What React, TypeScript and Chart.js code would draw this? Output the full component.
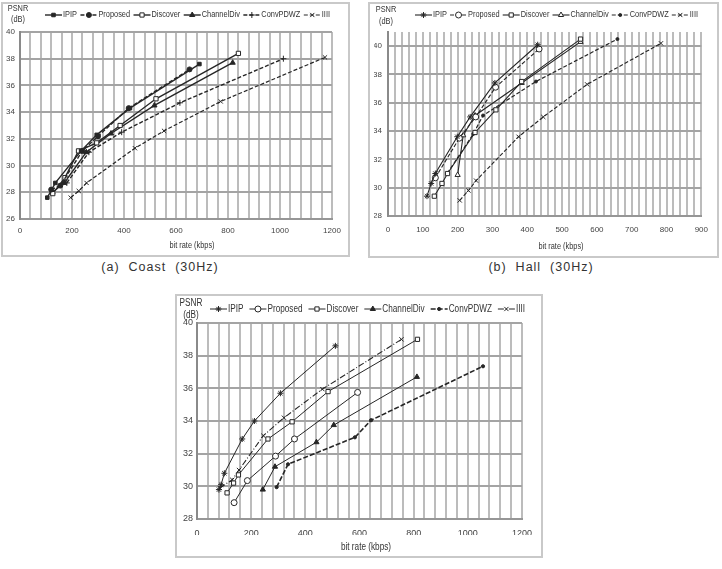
import React, { useEffect, useRef } from 'react';
import { Chart, registerables } from 'chart.js';
import { drawPoint } from 'chart.js/helpers';

Chart.register(...registerables);

type XY = [number, number];

const seriesNames = ['IPIP', 'Proposed', 'Discover', 'ChannelDiv', 'ConvPDWZ', 'IIII'];

// ---- Coast (30Hz): [bit rate kbps, PSNR dB]
const coastIPIP: XY[] = [[105, 27.6], [136, 28.7], [235, 31.1], [295, 32.3], [423, 34.3], [690, 37.6]];
const coastProposed: XY[] = [[120, 28.2], [155, 28.5], [240, 31.1], [300, 32.2], [418, 34.3], [652, 37.2]];
const coastDiscover: XY[] = [[126, 27.9], [173, 29.1], [225, 31.1], [295, 31.7], [385, 33.0], [523, 35.0], [840, 38.4]];
const coastChannelDiv: XY[] = [[125, 28.0], [170, 28.7], [255, 31.0], [350, 32.4], [517, 34.5], [818, 37.7]];
const coastConvPDWZ: XY[] = [[180, 28.7], [265, 31.0], [391, 32.5], [615, 34.7], [1013, 38.0]];
const coastIIII: XY[] = [[195, 27.6], [226, 28.1], [256, 28.7], [442, 31.3], [554, 32.6], [772, 34.8], [1173, 38.1]];

// ---- Hall (30Hz)
const hallIPIP: XY[] = [[112, 29.4], [124, 30.3], [136, 31.0], [199, 33.6], [236, 35.0], [307, 37.4], [430, 40.1]];
const hallProposed: XY[] = [[136, 30.7], [205, 33.5], [252, 35.0], [309, 37.1], [434, 39.8]];
const hallDiscover: XY[] = [[133, 29.4], [155, 30.3], [171, 31.0], [250, 33.9], [310, 35.5], [384, 37.5], [553, 40.5]];
const hallChannelDiv: XY[] = [[200, 30.9], [216, 33.7], [250, 35.1], [384, 37.4], [553, 40.3]];
const hallConvPDWZ: XY[] = [[170, 31.0], [245, 33.8], [273, 35.1], [425, 37.5], [659, 40.5]];
const hallIIII: XY[] = [[206, 29.1], [231, 29.8], [253, 30.5], [375, 33.6], [446, 35.0], [572, 37.3], [784, 40.2]];

// ---- third sequence
const thirdIPIP: XY[] = [[81, 29.8], [89, 30.1], [101, 30.8], [167, 32.9], [212, 34.0], [308, 35.7], [511, 38.6]];
const thirdProposed: XY[] = [[137, 29.0], [186, 30.35], [290, 31.85], [360, 32.9], [593, 35.75]];
const thirdDiscover: XY[] = [[111, 29.6], [135, 30.2], [153, 30.7], [262, 32.9], [351, 33.95], [484, 35.8], [814, 39.0]];
const thirdChannelDiv: XY[] = [[243, 29.8], [288, 31.2], [441, 32.7], [505, 33.75], [812, 36.7]];
const thirdConvPDWZ: XY[] = [[294, 29.95], [336, 31.35], [583, 33.0], [643, 34.05], [1056, 37.35]];
const thirdIIII: XY[] = [[84, 29.9], [130, 30.4], [155, 31.0], [245, 33.1], [321, 34.2], [463, 35.95], [755, 39.0]];

// Axis tick labels
const coastXLabels = [0, 200, 400, 600, 800, 1000, 1200];
const coastYLabels = [26, 28, 30, 32, 34, 36, 38, 40];
const hallXLabels = [0, 100, 200, 300, 400, 500, 600, 700, 800, 900];
const hallYLabels = [28, 30, 32, 34, 36, 38, 40];
const thirdXLabels = [0, 200, 400, 600, 800, 1000, 1200];
const thirdYLabels = [28, 30, 32, 34, 36, 38, 40];

const captionA = '(a)  Coast  (30Hz)';
const captionB = '(b)  Hall  (30Hz)';

const FONT = '"Liberation Sans Narrow", "Arial Narrow", "Liberation Sans", Arial, sans-serif';
const INK = '#262626';

interface SeriesStyle {
  dash: number[];
  point: string;
  filled: boolean;
  r: number;
  width: number;
}

interface Panel {
  box: { left: number; top: number; width: number; height: number };
  area: { left: number; top: number; right: number; bottom: number };
  xMax: number;
  xStep: number;
  xLabels: number[];
  yMin: number;
  yMax: number;
  yLabels: number[];
  series: XY[][];
  styles: SeriesStyle[];
  legend: { y: number; startX: number; endX: number };
  psnr: { x: number; y1: number; y2: number };
  xTitle: { x: number; y: number };
  tickFont: number;
  textFont: number;
  xPad: number;
  yPad: number;
}

const YW = 14;
const XH = 16;
const CONDENSE = 0.82;

const stylesA: SeriesStyle[] = [
  { dash: [], point: 'rect', filled: true, r: 2.5, width: 1.4 },
  { dash: [4, 2], point: 'circle', filled: true, r: 2.5, width: 1.4 },
  { dash: [], point: 'rect', filled: false, r: 3, width: 1.4 },
  { dash: [], point: 'triangle', filled: true, r: 3, width: 1.4 },
  { dash: [4, 2], point: 'cross', filled: false, r: 3, width: 1.4 },
  { dash: [4, 2], point: 'crossRot', filled: false, r: 3, width: 1.2 },
];
const stylesB: SeriesStyle[] = [
  { dash: [], point: 'star', filled: false, r: 3, width: 1.1 },
  { dash: [4, 2], point: 'circle', filled: false, r: 3, width: 1.1 },
  { dash: [], point: 'rect', filled: false, r: 3, width: 1.1 },
  { dash: [], point: 'triangle', filled: false, r: 3, width: 1.1 },
  { dash: [4, 2], point: 'circle', filled: true, r: 1.5, width: 1.2 },
  { dash: [4, 2], point: 'crossRot', filled: false, r: 3, width: 1.1 },
];
const stylesC: SeriesStyle[] = [
  { dash: [], point: 'star', filled: false, r: 3, width: 1 },
  { dash: [], point: 'circle', filled: false, r: 3, width: 1 },
  { dash: [], point: 'rect', filled: false, r: 3, width: 1 },
  { dash: [], point: 'triangle', filled: true, r: 3, width: 1 },
  { dash: [5, 2], point: 'circle', filled: true, r: 1.6, width: 1.6 },
  { dash: [6, 2, 1, 2], point: 'crossRot', filled: false, r: 3, width: 1.1 },
];

const panels: Panel[] = [
  {
    box: { left: 1, top: 2, width: 349, height: 255 },
    area: { left: 20, top: 32, right: 332, bottom: 219 },
    xMax: 1200, xStep: 40, xLabels: coastXLabels,
    yMin: 26, yMax: 40, yLabels: coastYLabels,
    series: [coastIPIP, coastProposed, coastDiscover, coastChannelDiv, coastConvPDWZ, coastIIII],
    styles: stylesA,
    legend: { y: 15, startX: 45, endX: 330 },
    psnr: { x: 18, y1: 9, y2: 20 },
    xTitle: { x: 192, y: 246 },
    tickFont: 8, textFont: 9, xPad: 7, yPad: 5,
  },
  {
    box: { left: 368, top: 2, width: 351, height: 256 },
    area: { left: 388, top: 32, right: 705, bottom: 216 },
    xMax: 900, xStep: 20, xLabels: hallXLabels,
    yMin: 28, yMax: 41, yLabels: hallYLabels,
    series: [hallIPIP, hallProposed, hallDiscover, hallChannelDiv, hallConvPDWZ, hallIIII],
    styles: stylesB,
    legend: { y: 15, startX: 415, endX: 698 },
    psnr: { x: 386, y1: 10, y2: 22 },
    xTitle: { x: 561, y: 247 },
    tickFont: 8, textFont: 9, xPad: 9, yPad: 6,
  },
  {
    box: { left: 175, top: 294, width: 368, height: 264 },
    area: { left: 197, top: 323, right: 529, bottom: 519 },
    xMax: 1200, xStep: 40, xLabels: thirdXLabels,
    yMin: 28, yMax: 40, yLabels: thirdYLabels,
    series: [thirdIPIP, thirdProposed, thirdDiscover, thirdChannelDiv, thirdConvPDWZ, thirdIIII],
    styles: stylesC,
    legend: { y: 309, startX: 210, endX: 525 },
    psnr: { x: 191, y1: 303, y2: 315 },
    xTitle: { x: 366, y: 547 },
    tickFont: 9, textFont: 10, xPad: 9, yPad: 4,
  },
];

// Horizontally condensed text, centred or left-aligned at (x, y)
function condensedText(ctx: CanvasRenderingContext2D, text: string, x: number, y: number, align: 'left' | 'center') {
  ctx.save();
  ctx.translate(x, y);
  ctx.scale(CONDENSE, 1);
  ctx.textAlign = align;
  ctx.textBaseline = 'middle';
  ctx.fillText(text, 0, 0);
  ctx.restore();
}

// Draws the line/marker legend, the y unit label and the x axis title
const overlayPlugin = {
  id: 'overlay',
  afterDraw(chart: any, _args: any, opts: any) {
    const { ctx } = chart;
    const ox = opts.originX;
    const oy = opts.originY;
    ctx.save();
    ctx.font = `${opts.fontSize}px ${FONT}`;
    const sets = chart.data.datasets;
    const sample = 17;
    const gap = 1;
    const widths = sets.map((d: any) => ctx.measureText(d.label).width * CONDENSE);
    const used = widths.reduce((a: number, b: number) => a + b, 0) + sets.length * (sample + gap);
    const spacing = (opts.legend.endX - opts.legend.startX - used) / (sets.length - 1);
    let x = opts.legend.startX - ox;
    const y = opts.legend.y - oy;
    sets.forEach((d: any, i: number) => {
      ctx.strokeStyle = INK;
      ctx.lineWidth = d.borderWidth;
      ctx.setLineDash(d.borderDash);
      ctx.beginPath();
      ctx.moveTo(x, y);
      ctx.lineTo(x + sample, y);
      ctx.stroke();
      ctx.setLineDash([]);
      ctx.fillStyle = d.pointBackgroundColor;
      ctx.strokeStyle = INK;
      ctx.lineWidth = 1;
      drawPoint(ctx, { pointStyle: d.pointStyle, radius: d.pointRadius, rotation: 0, borderWidth: 1 }, x + sample / 2, y);
      ctx.fillStyle = '#333';
      condensedText(ctx, d.label, x + sample + gap, y, 'left');
      x += sample + gap + widths[i] + spacing;
    });
    ctx.fillStyle = '#333';
    condensedText(ctx, 'PSNR', opts.psnr.x - ox, opts.psnr.y1 - oy, 'center');
    condensedText(ctx, '(dB)', opts.psnr.x - ox, opts.psnr.y2 - oy, 'center');
    condensedText(ctx, 'bit rate (kbps)', opts.xTitle.x - ox, opts.xTitle.y - oy, 'center');
    ctx.restore();
  },
};

function range(min: number, max: number, step: number): number[] {
  const out: number[] = [];
  for (let v = min; v <= max + 1e-9; v += step) out.push(Math.round(v * 1000) / 1000);
  return out;
}

function PanelChart({ p }: { p: Panel }) {
  const ref = useRef<HTMLCanvasElement | null>(null);
  const cL = p.box.left + 2;
  const cT = p.box.top + 2;
  const cW = p.box.width - 4;
  const cH = p.box.height - 4;

  useEffect(() => {
    if (!ref.current) return;
    const xGrid = range(0, p.xMax, p.xStep);
    const chart = new Chart(ref.current, {
      type: 'line',
      data: {
        datasets: p.series.map((pts, i) => {
          const s = p.styles[i];
          return {
            label: seriesNames[i],
            data: pts.map(([x, y]) => ({ x, y })),
            borderColor: INK,
            borderWidth: s.width,
            borderDash: s.dash,
            tension: 0,
            fill: false,
            pointStyle: s.point as any,
            pointRadius: s.r,
            pointBorderWidth: 1,
            pointBorderColor: INK,
            pointBackgroundColor: s.filled ? INK : '#ffffff',
          };
        }),
      },
      options: {
        responsive: false,
        animation: false,
        devicePixelRatio: 1,
        events: [],
        layout: {
          padding: {
            left: p.area.left - cL - YW,
            top: p.area.top - cT,
            right: cL + cW - p.area.right,
            bottom: cT + cH - p.area.bottom - XH,
          },
        },
        plugins: {
          legend: { display: false },
          tooltip: { enabled: false },
          overlay: {
            originX: cL,
            originY: cT,
            fontSize: p.textFont,
            legend: p.legend,
            psnr: p.psnr,
            xTitle: p.xTitle,
          },
        } as any,
        scales: {
          x: {
            type: 'linear',
            min: 0,
            max: p.xMax,
            afterFit: (s: any) => { s.height = XH; },
            afterBuildTicks: (s: any) => { s.ticks = xGrid.map((v) => ({ value: v })); },
            ticks: {
              autoSkip: false,
              maxRotation: 0,
              padding: p.xPad,
              color: '#444',
              font: { family: FONT, size: p.tickFont },
              callback: (v: any) => (p.xLabels.includes(Number(v)) ? String(v) : ''),
            },
            grid: { color: '#bcbcbc', lineWidth: 2, drawTicks: false },
            border: { color: '#969696', width: 2 },
          },
          y: {
            type: 'linear',
            min: p.yMin,
            max: p.yMax,
            afterFit: (s: any) => { s.width = YW; },
            afterBuildTicks: (s: any) => { s.ticks = p.yLabels.map((v) => ({ value: v })); },
            ticks: {
              padding: p.yPad,
              color: '#444',
              font: { family: FONT, size: p.tickFont },
              callback: (v: any) => String(v),
            },
            grid: { color: '#a4a4a4', lineWidth: 2, drawTicks: false },
            border: { color: '#8a8a8a', width: 2 },
          },
        },
      },
      plugins: [overlayPlugin],
    } as any);
    return () => chart.destroy();
  }, [p]);

  return (
    <>
      <div
        style={{
          position: 'absolute',
          left: p.box.left,
          top: p.box.top,
          width: p.box.width,
          height: p.box.height,
          border: '2px solid #c9c9c9',
          boxSizing: 'border-box',
        }}
      />
      <canvas
        ref={ref}
        width={cW}
        height={cH}
        style={{ position: 'absolute', left: cL, top: cT, width: cW, height: cH }}
      />
    </>
  );
}

const captionStyle: React.CSSProperties = {
  position: 'absolute',
  transform: 'translateX(-50%)',
  whiteSpace: 'pre',
  fontFamily: '"Liberation Sans", Arial, sans-serif',
  fontSize: 12.5,
  letterSpacing: 1,
  color: '#333',
};

export default function App() {
  return (
    <div style={{ position: 'fixed', left: 0, top: 0, width: 722, height: 569, background: '#fff', overflow: 'hidden' }}>
      {panels.map((p, i) => (
        <PanelChart key={i} p={p} />
      ))}
      <div style={{ ...captionStyle, left: 160, top: 260 }}>{captionA}</div>
      <div style={{ ...captionStyle, left: 541, top: 260 }}>{captionB}</div>
    </div>
  );
}
